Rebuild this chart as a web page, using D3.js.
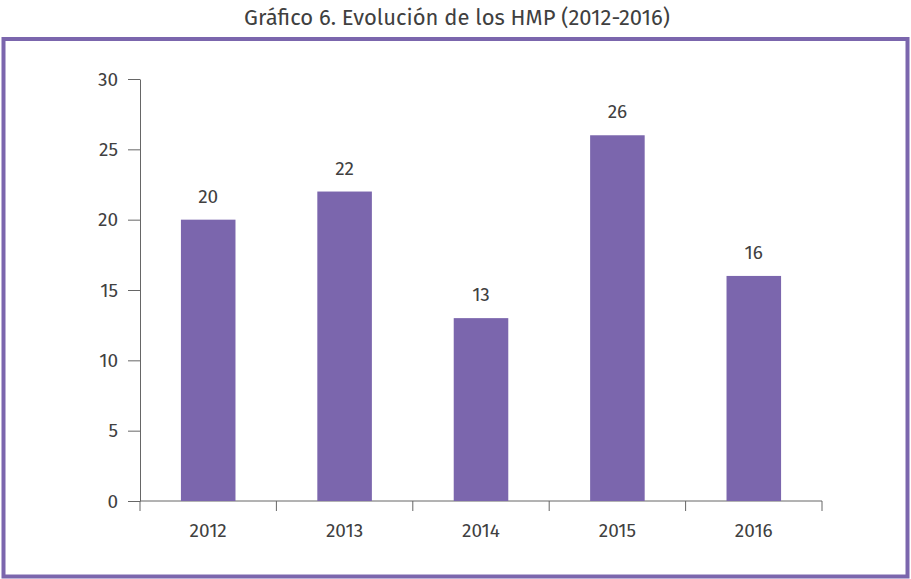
<!DOCTYPE html>
<html>
<head>
<meta charset="utf-8">
<script src="https://cdn.jsdelivr.net/npm/d3@7"></script>
<style>
  body { margin: 0; background: #fff; }
  svg text { font-family: "Fira Sans", "Open Sans", "Noto Sans", sans-serif; fill: #404040; }
</style>
</head>
<body>
<div id="chart"></div>
<script>
var years = ["2012", "2013", "2014", "2015", "2016"];
var values = [20, 22, 13, 26, 16];
var yTicks = [0, 5, 10, 15, 20, 25, 30];
var title = "Gráfico 6. Evolución de los HMP (2012-2016)";

var W = 911, H = 579;
var barColor = "#7b66ad";

var svg = d3.select("#chart").append("svg")
    .attr("width", W)
    .attr("height", H);

// title
svg.append("text")
    .attr("x", 457)
    .attr("y", 25)
    .attr("text-anchor", "middle")
    .style("font-size", "22px")
    .text(title);

// frame
svg.append("rect")
    .attr("x", 3.5)
    .attr("y", 39)
    .attr("width", 904)
    .attr("height", 537.5)
    .attr("fill", "none")
    .attr("stroke", barColor)
    .attr("stroke-width", 4);

var margin = { top: 79, left: 140, right: 89, bottom: 78 };
var width = W - margin.left - margin.right,
    height = H - margin.top - margin.bottom;

var g = svg.append("g")
    .attr("transform", "translate(" + margin.left + "," + margin.top + ")");

var x = d3.scaleBand()
    .domain(years)
    .range([0, width])
    .padding(0);

var y = d3.scaleLinear()
    .domain([0, 30])
    .range([height, 0]);

var barW = x.bandwidth() * 0.4;

// y axis
var yAxis = g.append("g")
    .call(d3.axisLeft(y).tickValues(yTicks).tickSizeInner(12).tickSizeOuter(0).tickPadding(10));

// x axis: ticks at band edges
var xAxis = g.append("g")
    .attr("transform", "translate(0," + height + ")");
xAxis.append("line")
    .attr("x1", 0).attr("x2", width)
    .attr("stroke", "#666");
xAxis.selectAll(".edge")
    .data(d3.range(years.length + 1))
    .enter().append("line")
    .attr("class", "edge")
    .attr("x1", function(i) { return i * x.step(); })
    .attr("x2", function(i) { return i * x.step(); })
    .attr("y1", 0).attr("y2", 10)
    .attr("stroke", "#666");
xAxis.selectAll(".lab")
    .data(years)
    .enter().append("text")
    .attr("class", "lab")
    .attr("x", function(d) { return x(d) + x.bandwidth() / 2; })
    .attr("y", 36)
    .attr("text-anchor", "middle")
    .style("font-size", "19px")
    .text(function(d) { return d; });

yAxis.select(".domain").attr("stroke", "#666");
yAxis.selectAll(".tick line").attr("stroke", "#666");
yAxis.selectAll(".tick text").style("font-size", "19px").attr("fill", "#404040");

// bars
g.selectAll(".bar")
    .data(values)
    .enter().append("rect")
    .attr("class", "bar")
    .attr("x", function(d, i) { return x(years[i]) + (x.bandwidth() - barW) / 2; })
    .attr("y", function(d) { return y(d); })
    .attr("width", barW)
    .attr("height", function(d) { return height - y(d); })
    .attr("fill", barColor);

// value labels
g.selectAll(".val")
    .data(values)
    .enter().append("text")
    .attr("class", "val")
    .attr("x", function(d, i) { return x(years[i]) + x.bandwidth() / 2; })
    .attr("y", function(d) { return y(d) - 17; })
    .attr("text-anchor", "middle")
    .style("font-size", "19px")
    .text(function(d) { return d; });
</script>
</body>
</html>
